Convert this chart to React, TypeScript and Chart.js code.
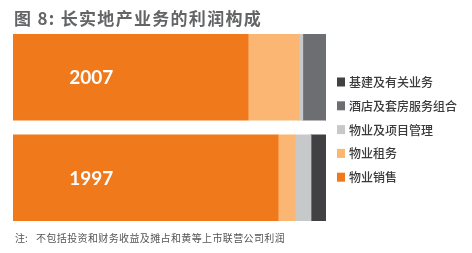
import React, { useEffect, useRef } from "react";
import { Chart, registerables } from "chart.js";

Chart.register(...registerables);

const years = ["2007", "1997"];
const seriesNames = ["物业销售", "物业租务", "物业及项目管理", "酒店及套房服务组合", "基建及有关业务"];
const propertySales = [75.1, 84.7];
const propertyRental = [16.2, 5.4];
const propertyMgmt = [1.3, 5.1];
const hotels = [7.4, 0];
const infrastructure = [0, 4.8];
const seriesColors = ["#f0791b", "#fbb673", "#c7c8ca", "#6d6e71", "#414143"];

const titleText = "图 8: 长实地产业务的利润构成";
const noteLabel = "注:";
const noteText = "不包括投资和财务收益及摊占和黄等上市联营公司利润";

const CJK = '"Noto Sans CJK SC", "Noto Sans", sans-serif';

function fitText(ctx: any, text: string, x: number, y: number, targetWidth: number) {
  ctx.letterSpacing = "0px";
  const w = ctx.measureText(text).width;
  const n = Array.from(text).length;
  const sp = (targetWidth - w) / n;
  ctx.letterSpacing = sp.toFixed(2) + "px";
  ctx.fillText(text, x, y);
  ctx.letterSpacing = "0px";
}

export default function App() {
  const ref = useRef<HTMLCanvasElement | null>(null);

  useEffect(() => {
    const canvas = ref.current;
    if (!canvas) return;
    const values = [propertySales, propertyRental, propertyMgmt, hotels, infrastructure];

    const decor = {
      id: "decor",
      afterDatasetsDraw(chart: any) {
        const ctx = chart.ctx;
        const xs = chart.scales.x;
        const ys = chart.scales.y;
        ctx.save();
        // category labels inside bars
        ctx.fillStyle = "#ffffff";
        ctx.font = 'bold 19px Lato, "DejaVu Sans", sans-serif';
        ctx.textAlign = "center";
        ctx.textBaseline = "middle";
        chart.data.labels.forEach((lab: string, i: number) => {
          ctx.fillText(lab, xs.getPixelForValue(25), ys.getPixelForValue(i) + 1);
        });
        // title
        ctx.textAlign = "left";
        ctx.fillStyle = "#636466";
        ctx.font = "bold 17px " + CJK;
        fitText(ctx, titleText, 14, 19, 248);
        // legend (reversed order)
        const ds = chart.data.datasets;
        ctx.font = "500 12px " + CJK;
        for (let k = 0; k < ds.length; k++) {
          const d = ds[ds.length - 1 - k];
          const cy = 82 + k * 23.8;
          ctx.fillStyle = d.backgroundColor;
          ctx.fillRect(337, cy - 4.5, 8, 9);
          ctx.fillStyle = "#3a3a3a";
          ctx.fillText(d.label, 349, cy + 0.5);
        }
        // footnote
        ctx.fillStyle = "#555555";
        ctx.font = "10px " + CJK;
        ctx.fillText(noteLabel, 15, 238);
        fitText(ctx, noteText, 36, 238, 249);
        ctx.restore();
      },
    };

    const chart = new Chart(canvas, {
      type: "bar",
      data: {
        labels: years,
        datasets: seriesNames.map((name, i) => ({
          label: name,
          data: values[i],
          backgroundColor: seriesColors[i],
          borderWidth: 0,
          barThickness: 86,
        })),
      },
      options: {
        indexAxis: "y",
        responsive: false,
        animation: false,
        layout: { padding: { left: 13, right: 146, top: 27, bottom: 25 } },
        scales: {
          x: { stacked: true, min: 0, max: 100, display: false },
          y: { stacked: true, display: false },
        },
        plugins: {
          legend: { display: false },
          tooltip: { enabled: false },
        },
      },
      plugins: [decor],
    } as any);

    return () => chart.destroy();
  }, []);

  return (
    <div style={{ position: "absolute", left: 0, top: 0, width: 472, height: 253, background: "#ffffff" }}>
      <canvas ref={ref} width={472} height={253} style={{ display: "block" }} />
    </div>
  );
}
